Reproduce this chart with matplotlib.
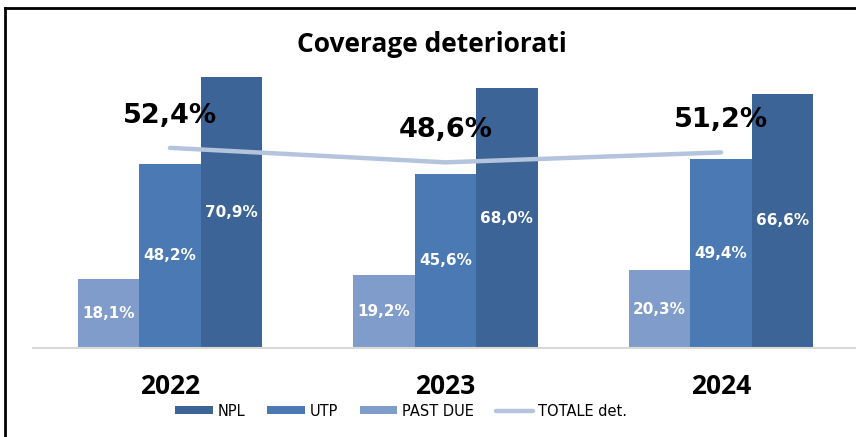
import matplotlib.pyplot as plt
from matplotlib.lines import Line2D
import numpy as np

# data
years = ['2022', '2023', '2024']
npl = [70.9, 68.0, 66.6]
utp = [48.2, 45.6, 49.4]
past_due = [18.1, 19.2, 20.3]
totale = [52.4, 48.6, 51.2]

c_npl = '#3D6497'
c_utp = '#4A79B3'
c_pd = '#7F9CCA'
c_tot = '#B4C4DD'

def fmt(v):
    return f'{v:.1f}%'.replace('.', ',')

fig = plt.figure(figsize=(8.56, 4.37), dpi=100)
W, H = 856, 437
ax = fig.add_axes([33 / W, 1 - 348 / H, (855 - 33) / W, (348 - 42.4) / H])

x = np.arange(len(years))
bw = 0.223
unit = 275.5
ax.set_xlim(-(170 - 33) / unit, 2 + (855 - 721) / unit)
ax.set_ylim(0, 80)

series = [(past_due, c_pd, 'PAST DUE', -bw), (utp, c_utp, 'UTP', 0), (npl, c_npl, 'NPL', bw)]
handles = {}
for vals, col, name, off in series:
    bars = ax.bar(x + off, vals, bw, color=col, zorder=2, label=name)
    handles[name] = bars
    for b, v in zip(bars, vals):
        ax.text(b.get_x() + b.get_width() / 2, v / 2, fmt(v), ha='center', va='center',
                color='white', fontsize=11, fontweight='bold', family='DejaVu Sans', zorder=4)

line, = ax.plot(x, totale, color=c_tot, lw=3.2, zorder=3, solid_capstyle='round', label='TOTALE det.')
for xi, v in zip(x, totale):
    ax.annotate(fmt(v), (xi, v), xytext=(0, 32), textcoords='offset pixels', ha='center', va='center',
                fontsize=19.5, fontweight='bold', family='DejaVu Sans', zorder=5)

for s in ['top', 'right', 'left']:
    ax.spines[s].set_visible(False)
ax.spines['bottom'].set_color('#D9D9D9')
ax.spines['bottom'].set_linewidth(1.5)
ax.set_yticks([])
ax.set_xticks(x)
ax.set_xticklabels(years, fontsize=19, fontweight='bold', family='Open Sans')
ax.tick_params(axis='x', length=0, pad=18)

fig.text(432 / W, 1 - 45 / H, 'Coverage deteriorati', ha='center', va='center',
         fontsize=19, fontweight='bold', family='Open Sans')

fig.legend([handles['NPL'], handles['UTP'], handles['PAST DUE'], line],
           ['NPL', 'UTP', 'PAST DUE', 'TOTALE det.'],
           loc='center', bbox_to_anchor=(401 / W, 1 - 411 / H), ncol=4, frameon=False,
           handlelength=2.6, handleheight=0.45, handletextpad=0.3, columnspacing=1.5,
           prop={'family': 'DejaVu Sans', 'size': 10.5})

# border
fig.add_artist(Line2D([5 / W, 5 / W], [0, 1 - 8 / H], color='black', lw=2, transform=fig.transFigure))
fig.add_artist(Line2D([5 / W, 1], [1 - 8 / H, 1 - 8 / H], color='black', lw=2, transform=fig.transFigure))

fig.savefig('out.png', dpi=100)
